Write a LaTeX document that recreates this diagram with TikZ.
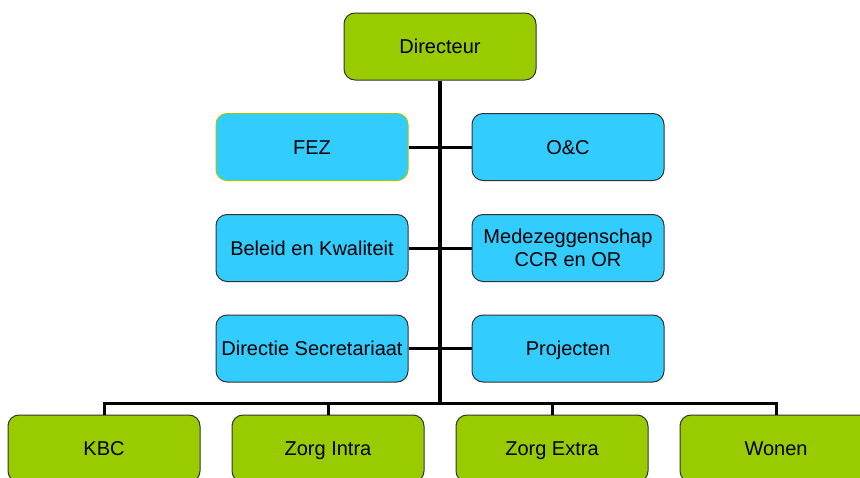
\documentclass[tikz,border=0pt]{standalone}
\usepackage{fontspec}
\setmainfont{Liberation Sans}
\definecolor{boxgreen}{HTML}{99CC00}
\definecolor{boxblue}{HTML}{33CCFF}
\definecolor{boxline}{HTML}{333333}
\begin{document}
\begin{tikzpicture}[x=1pt,y=-1pt,
  orgbox/.style={draw=boxline,line width=1pt,rounded corners=11pt,minimum width=192pt,minimum height=67pt,inner sep=0pt,align=center,font=\fontsize{20}{23.5}\selectfont},
  oneline/.style={text height=16.3pt,text depth=2pt},
  greenbox/.style={orgbox,fill=boxgreen},
  bluebox/.style={orgbox,fill=boxblue},
  conn/.style={line width=3pt,black},
  trunk/.style={line width=4pt,black}]
\useasboundingbox (0,0) rectangle (860,477);
\clip (0,0) rectangle (860,477);
\coordinate (tb) at (440,403);
\node[greenbox,oneline] (dir) at (440,46.5) {Directeur};
\node[bluebox,oneline,draw=boxgreen] (fez) at (312,147) {FEZ};
\node[bluebox,oneline] (oc) at (568,147) {O\&C};
\node[bluebox,oneline] (bk) at (312,248) {Beleid en Kwaliteit};
\node[bluebox] (med) at (568,248) {Medezeggenschap\\CCR en OR};
\node[bluebox,oneline] (ds) at (312,348.5) {Directie Secretariaat};
\node[bluebox,oneline] (proj) at (568,348.5) {Projecten};
\node[greenbox,oneline] (kbc) at (104,448.5) {KBC};
\node[greenbox,oneline] (zi) at (328,448.5) {Zorg Intra};
\node[greenbox,oneline] (ze) at (552,448.5) {Zorg Extra};
\node[greenbox,oneline] (won) at (776,448.5) {Wonen};
\draw[trunk] (dir.south) -- (tb);
\draw[conn] (fez.east) -- (oc.west);
\draw[conn] (bk.east) -- (med.west);
\draw[conn] (ds.east) -- (proj.west);
\draw[conn] (kbc.north) -- (kbc.north |- tb) -- (won.north |- tb) -- (won.north);
\draw[conn] (zi.north |- tb) -- (zi.north);
\draw[conn] (ze.north |- tb) -- (ze.north);
\end{tikzpicture}
\end{document}
